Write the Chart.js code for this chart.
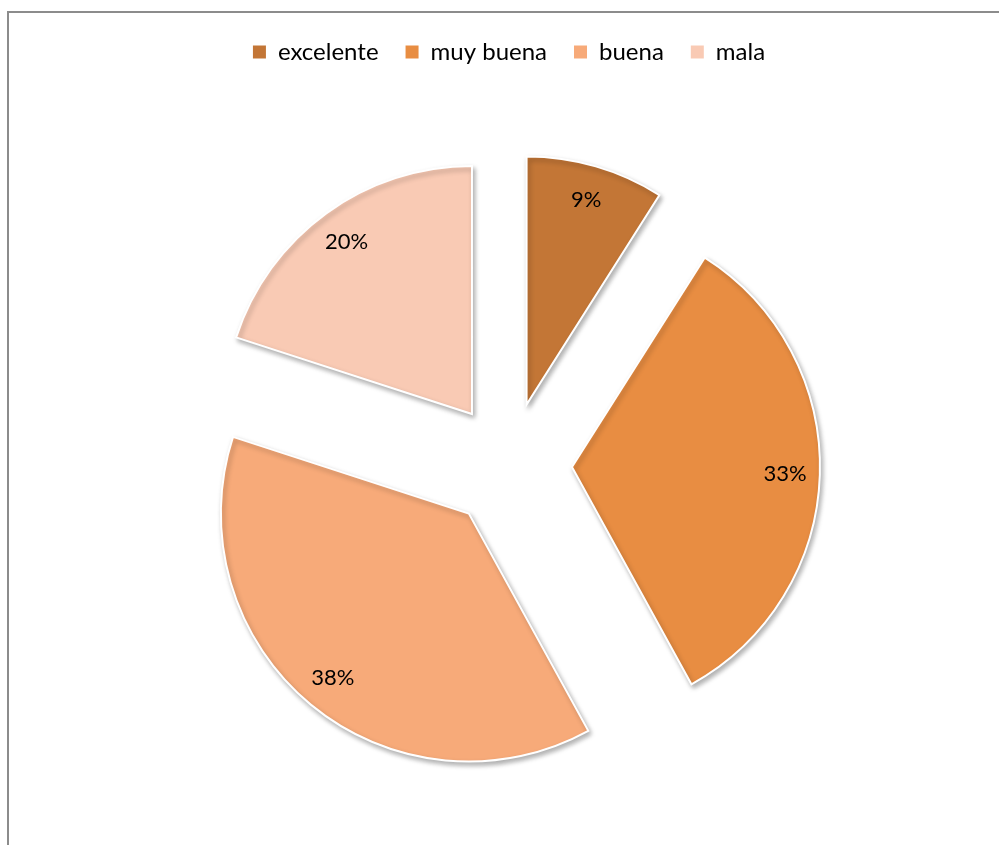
<!DOCTYPE html>
<html lang="es">

<head>
  <meta charset="UTF-8">
  <title>Calificación</title>
  <style>
    html, body { margin: 0; padding: 0; overflow: hidden; background: #fff; }
    .marco {
      position: absolute; left: 7px; top: 11px; width: 1100px; height: 1000px;
      border-top: 2px solid #8c8c8c; border-left: 2px solid #8c8c8c;
    }
    .caja { position: absolute; left: 0; top: 0; width: 999px; height: 856px; }
  </style>
</head>

<body>
  <div class="marco"></div>
  <div class="caja"><canvas id="graficoTorta"></canvas></div>

  <script src="https://cdn.jsdelivr.net/npm/chart.js"></script>
  <script>
    // datos de la encuesta
    const categorias = ['excelente', 'muy buena', 'buena', 'mala'];
    const porcentajes = [9, 33, 38, 20];
    const colores = ['#C37636', '#E88D42', '#F7AA79', '#F9CAB4'];

    const SEPARACION = 63;   // distancia de cada porción al centro
    const RADIO = 248;

    // dibuja cada porción desplazada hacia afuera con sombra suave
    const porcionesSeparadas = {
      id: 'porcionesSeparadas',
      beforeDatasetDraw(chart, args) {
        const ctx = chart.ctx;
        args.meta.data.forEach(arc => {
          const medio = (arc.startAngle + arc.endAngle) / 2;
          ctx.save();
          ctx.translate(Math.cos(medio) * SEPARACION, Math.sin(medio) * SEPARACION);
          ctx.shadowColor = 'rgba(0, 0, 0, 0.3)';
          ctx.shadowBlur = 5;
          ctx.shadowOffsetX = 2;
          ctx.shadowOffsetY = 3;
          arc.draw(ctx);
          ctx.restore();
        });
        return false;
      }
    };

    // etiquetas de porcentaje dentro de cada porción
    const etiquetas = {
      id: 'etiquetas',
      afterDatasetsDraw(chart) {
        const ctx = chart.ctx;
        const meta = chart.getDatasetMeta(0);
        ctx.save();
        ctx.font = '22px Lato';
        ctx.fillStyle = '#000';
        ctx.textAlign = 'center';
        ctx.textBaseline = 'middle';
        meta.data.forEach((arc, i) => {
          const medio = (arc.startAngle + arc.endAngle) / 2;
          const d = SEPARACION + arc.outerRadius * 0.86;
          ctx.fillText(porcentajes[i] + '%', arc.x + Math.cos(medio) * d, arc.y + Math.sin(medio) * d);
        });
        ctx.restore();
      }
    };

    // cuadros de la leyenda sin el borde blanco
    const leyendaBase = Chart.overrides.pie.plugins.legend.labels.generateLabels;

    new Chart(document.getElementById('graficoTorta'), {
      type: 'pie',
      data: {
        labels: categorias,
        datasets: [{
          data: porcentajes,
          backgroundColor: colores,
          borderColor: '#ffffff',
          borderWidth: 2,
          borderJoinStyle: 'miter'
        }]
      },
      options: {
        responsive: true,
        maintainAspectRatio: false,
        animation: false,
        radius: RADIO,
        layout: { padding: { top: 13, left: 19, right: 0, bottom: 0 } },
        plugins: {
          legend: {
            position: 'top',
            labels: {
              boxWidth: 13,
              boxHeight: 13,
              padding: 27,
              color: '#000',
              font: { family: 'Lato', size: 24 },
              generateLabels(chart) {
                return leyendaBase(chart).map(item => ({ ...item, lineWidth: 0 }));
              }
            }
          },
          tooltip: { enabled: false }
        }
      },
      plugins: [porcionesSeparadas, etiquetas]
    });
  </script>
</body>

</html>
